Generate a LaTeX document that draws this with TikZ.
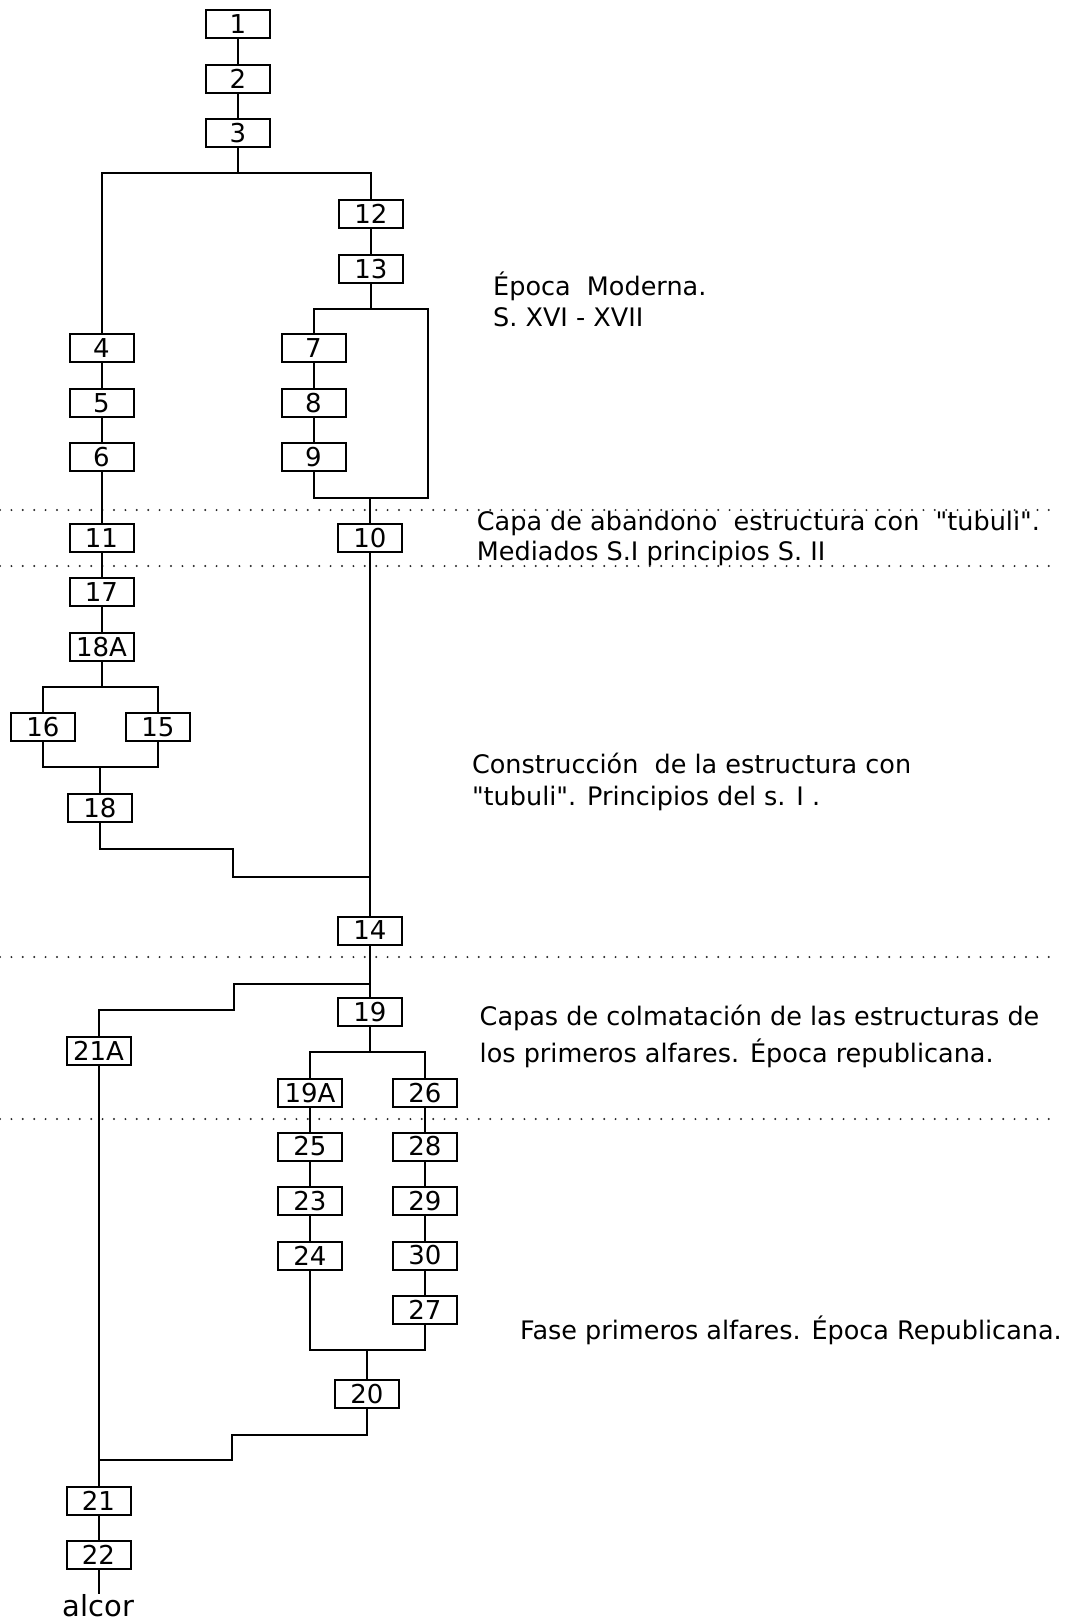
\documentclass[tikz,border=0pt]{standalone}
\usepackage{fontspec}
\setmainfont{DejaVu Sans}[Ligatures=TeXOff]
\begin{document}
\begin{tikzpicture}[x=1pt,y=-1pt,
  box/.style={draw, line width=2pt, minimum width=64pt, minimum height=28pt, inner sep=0pt, font=\fontsize{26}{30}\selectfont},
  con/.style={line width=2pt},
  note/.style={anchor=base west, inner sep=0pt, font=\fontsize{25.5}{30}\selectfont},
  sep/.style={line width=2.2pt, line cap=round, dash pattern=on 0pt off 11.4pt, black!85}]
\useasboundingbox[fill=white] (0,0) rectangle (1079,1623);

% separators
\draw[sep] (0,510) -- (1060,510);
\draw[sep] (0,566) -- (1060,566);
\draw[sep] (0,957) -- (1057,957);
\draw[sep] (0,1119) -- (1057,1119);

% boxes
\node[box] (n1) at (238,24) {1};
\node[box] (n2) at (238,78.5) {2};
\node[box] (n3) at (238,132.8) {3};
\node[box] (n12) at (371,214) {12};
\node[box] (n13) at (371,268.6) {13};
\node[box] (n4) at (101.5,348.3) {4};
\node[box] (n5) at (101.5,403) {5};
\node[box] (n6) at (101.5,457.4) {6};
\node[box] (n7) at (313.5,348.3) {7};
\node[box] (n8) at (313.5,403) {8};
\node[box] (n9) at (313.5,457.4) {9};
\node[box] (n11) at (101.5,538) {11};
\node[box] (n10) at (370,538) {10};
\node[box] (n17) at (101.5,592) {17};
\node[box] (n18A) at (101.5,646.7) {18A};
\node[box] (n16) at (43,727) {16};
\node[box] (n15) at (158,727) {15};
\node[box] (n18) at (100,808) {18};
\node[box] (n14) at (370,930.5) {14};
\node[box] (n19) at (370,1011.7) {19};
\node[box] (n21A) at (98.5,1050.7) {21A};
\node[box] (n19A) at (310,1092.8) {19A};
\node[box] (n26) at (425,1092.8) {26};
\node[box] (n25) at (310,1146.5) {25};
\node[box] (n28) at (425,1146.5) {28};
\node[box] (n23) at (310,1201) {23};
\node[box] (n29) at (425,1201) {29};
\node[box] (n24) at (310,1255.5) {24};
\node[box] (n30) at (425,1255.5) {30};
\node[box] (n27) at (425,1310) {27};
\node[box] (n20) at (367,1394) {20};
\node[box] (n21) at (98.5,1501) {21};
\node[box] (n22) at (98.5,1555) {22};
\node[anchor=base, inner sep=0pt, font=\fontsize{29}{30}\selectfont] (alcor) at (98.5,1616) {alcor};

% junction coordinates
\coordinate (j3) at (238,172.5);
\coordinate (j13) at (371,308.5);
\coordinate (r1) at (428,308.5);
\coordinate (r2) at (428,498);
\coordinate (j9) at (370,498);
\coordinate (j18A) at (101.5,687);
\coordinate (j16) at (100,767);
\coordinate (s18) at (232.5,848.5);
\coordinate (m14) at (370,876.5);
\coordinate (m19) at (370,984);
\coordinate (s21) at (233.5,1010);
\coordinate (j19) at (370,1052.3);
\coordinate (j24) at (367,1350);
\coordinate (s20) at (231.5,1435);
\coordinate (m21) at (98.5,1460);

% connectors
\draw[con] (n1) -- (n2);
\draw[con] (n2) -- (n3);
\draw[con] (n3) -- (j3);
\draw[con] (n4) |- (j3) -| (n12);
\draw[con] (n12) -- (n13);
\draw[con] (n13) -- (j13);
\draw[con] (n7) |- (r1) -- (r2) -| (n9);
\draw[con] (n4) -- (n5);
\draw[con] (n5) -- (n6);
\draw[con] (n7) -- (n8);
\draw[con] (n8) -- (n9);
\draw[con] (j9) -- (n10);
\draw[con] (n6) -- (n11);
\draw[con] (n11) -- (n17);
\draw[con] (n17) -- (n18A);
\draw[con] (n18A) -- (j18A);
\draw[con] (n16) |- (j18A) -| (n15);
\draw[con] (n16) |- (j16) -| (n15);
\draw[con] (j16) -- (n18);
\draw[con] (n18) |- (s18) |- (m14);
\draw[con] (n10) -- (n14);
\draw[con] (n14) -- (n19);
\draw[con] (m19) -| (s21) -| (n21A);
\draw[con] (n19) -- (j19);
\draw[con] (n19A) |- (j19) -| (n26);
\draw[con] (n19A) -- (n25);
\draw[con] (n25) -- (n23);
\draw[con] (n23) -- (n24);
\draw[con] (n26) -- (n28);
\draw[con] (n28) -- (n29);
\draw[con] (n29) -- (n30);
\draw[con] (n30) -- (n27);
\draw[con] (n24) |- (j24) -| (n27);
\draw[con] (j24) -- (n20);
\draw[con] (n20) |- (s20) |- (m21);
\draw[con] (n21A) -- (n21);
\draw[con] (n21) -- (n22);
\draw[con] (n22) -- (alcor);

% annotations
\node[note] (t1a) at (493,295) {Época\ \ Moderna.};
\node[note] (t1b) at (493,326) {S. XVI - XVII};
\node[note] (t2a) at (476.7,530.7) {Capa de abandono\ \ estructura con\ \ "tubuli".};
\node[note] (t2b) at (476.7,560) {Mediados S.I principios S. II};
\node[note] (t3a) at (471.8,773.3) {Construcción\ \ de la estructura con};
\node[note] (t3b) at (471.8,805) {"tubuli". Principios del s. I .};
\node[note] (t4a) at (479.5,1025) {Capas de colmatación de las estructuras de};
\node[note] (t4b) at (479.5,1062.3) {los primeros alfares. Época republicana.};
\node[note] (t5) at (520,1339.3) {Fase primeros alfares. Época Republicana.};
\end{tikzpicture}
\end{document}
